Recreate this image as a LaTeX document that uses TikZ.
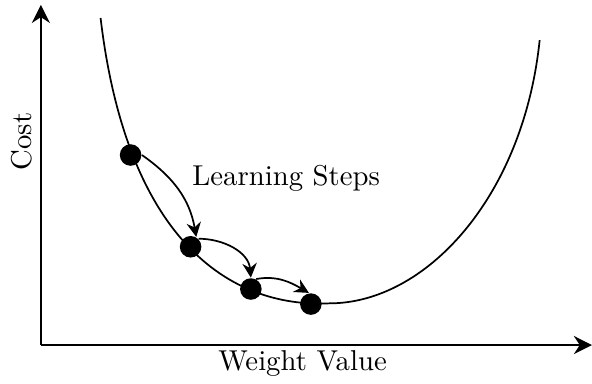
\documentclass[tikz,border=0pt]{standalone}
\usepackage{tikz}
\usetikzlibrary{arrows.meta,positioning}
\tikzset{
  stepdot/.style = {circle, fill=black, inner sep=0pt, minimum size=7.5pt},
  steparrow/.style = {-{Stealth[length=5pt,width=5pt]}, semithick},
  axisline/.style = {thick, -{Stealth[length=6.3pt,width=6.3pt]}}
}
\begin{document}
\begin{tikzpicture}
  \useasboundingbox (-0.50,-0.465) rectangle (6.74,4.22);
  % axes
  \coordinate (origin) at (0,0);
  \coordinate (xend) at (6.74,0);
  \coordinate (yend) at (0,4.16);
  \draw[axisline] (origin) -- (xend);
  \draw[axisline] (origin) -- (yend);
  \node[rotate=90] (costlbl) at (-0.23,2.49) {Cost};
  \node (weightlbl) at (3.20,-0.22) {Weight Value};

  % cost curve
  \draw[semithick] (0.73,4.00) .. controls (1.05,1.3) and (2.3,0.45) .. (3.53,0.51)
    .. controls (4.7,0.51) and (5.9,1.8) .. (6.10,3.73);

  \foreach \i/\x/\y in {1/1.097/2.324, 2/1.831/1.202, 3/2.568/0.685, 4/3.302/0.501}{
    \node[stepdot] (d\i) at (\x,\y) {};
  }
  \draw[steparrow] (d1.east) to[out=-35,in=100] (d2.60);
  \draw[steparrow] (d2.45) to[out=0,in=95] (d3.north);
  \draw[steparrow] (d3.62) to[out=10,in=150] (d4.100);
  \node (steplbl) at (3.00,2.04) {Learning Steps};
\end{tikzpicture}
\end{document}
